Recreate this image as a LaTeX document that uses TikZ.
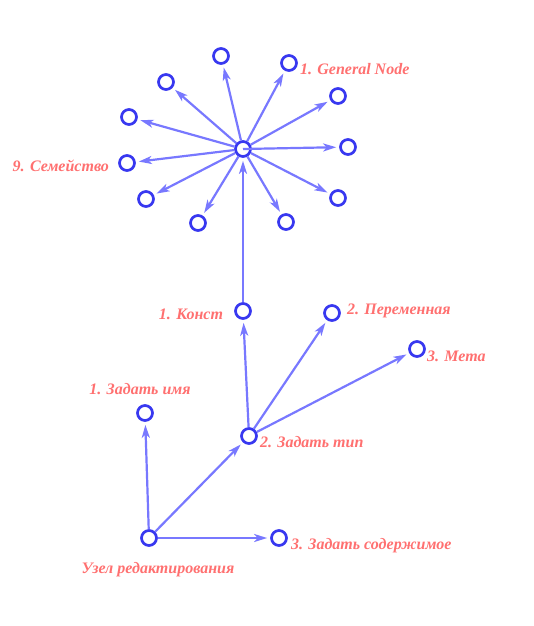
\documentclass[tikz,border=0pt]{standalone}
\usepackage{fontspec}
\setmainfont{Liberation Serif}
\usetikzlibrary{positioning, arrows.meta}
\definecolor{nodeblue}{HTML}{3838F0}
\definecolor{linkblue}{HTML}{7878FF}
\definecolor{labelred}{HTML}{FF7070}

\begin{document}
\begin{tikzpicture}[x=1pt, y=-1pt, node distance=5pt,
        vertex/.style={draw=nodeblue, circle, line width=2.7pt, fill=white, minimum size=15pt, inner sep=0pt},
        lbl/.style={text=labelred, font=\fontsize{16}{18}\selectfont\bfseries\itshape, inner sep=0pt},
        link/.style={draw=linkblue, line width=2.2pt, -{Stealth[length=13pt, width=8pt, inset=3.5pt]}, shorten >=3pt}]
        \useasboundingbox (0,0) rectangle (534,626);

        \node[vertex] at (243,149)      (hub)     {};
        \node[vertex] at (221,56)       (spoke 0) {};
        \node[vertex] at (289,63)       (spoke 1) {};
        \node[vertex] at (338,96)       (spoke 2) {};
        \node[vertex] at (348,147)      (spoke 3) {};
        \node[vertex] at (338,198)      (spoke 4) {};
        \node[vertex] at (286,222)      (spoke 5) {};
        \node[vertex] at (198,223)      (spoke 6) {};
        \node[vertex] at (146,199)      (spoke 7) {};
        \node[vertex] at (127,163)      (spoke 8) {};
        \node[vertex] at (129,117)      (spoke 9) {};
        \node[vertex] at (166,82)       (spoke 10) {};

        \node[vertex] at (243,311)      (const)   {};
        \node[vertex] at (332,313)      (var)     {};
        \node[vertex] at (417,349)      (meta)    {};
        \node[vertex] at (145,413)      (name)    {};
        \node[vertex] at (249,436)      (type)    {};
        \node[vertex] at (149,538)      (root)    {};
        \node[vertex] at (279,538)      (content) {};

        \node[lbl, right=2pt of spoke 1, yshift=-6pt]           (l gen)     {1. General Node};
        \node[lbl, left=9pt of spoke 8, yshift=-3pt]            (l fam)     {9. Семейство};
        \node[lbl, left=11pt of const, yshift=-3pt]             (l const)   {1. Конст};
        \node[lbl, right=6pt of var, yshift=2pt]                (l var)     {2. Переменная};
        \node[lbl, right=1pt of meta, yshift=-7pt]              (l meta)    {3. Мета};
        \node[lbl, above=9pt of name, xshift=-5pt]              (l name)    {1. Задать имя};
        \node[lbl, right=2pt of type, yshift=-6pt]              (l type)    {2. Задать тип};
        \node[lbl, right=3pt of content, yshift=-8pt]           (l content) {3. Задать содержимое};
        \node[lbl, below=15pt of root, xshift=9pt]              (l root)    {Узел редактирования};

        \draw[link] (hub) -- (spoke 0);
        \draw[link] (hub) -- (spoke 1);
        \draw[link] (hub) -- (spoke 2);
        \draw[link] (hub.center) -- (spoke 3);
        \draw[link] (hub) -- (spoke 4);
        \draw[link] (hub) -- (spoke 5);
        \draw[link] (hub) -- (spoke 6);
        \draw[link] (hub) -- (spoke 7);
        \draw[link] (hub) -- (spoke 8);
        \draw[link] (hub) -- (spoke 9);
        \draw[link] (hub) -- (spoke 10);
        \draw[link] (const) -- (hub);
        \draw[link] (type) -- (const);
        \draw[link] (type) -- (var);
        \draw[link] (type) -- (meta);
        \draw[link] (root) -- (name);
        \draw[link] (root) -- (type);
        \draw[link] (root) -- (content);
    \end{tikzpicture}
\end{document}
